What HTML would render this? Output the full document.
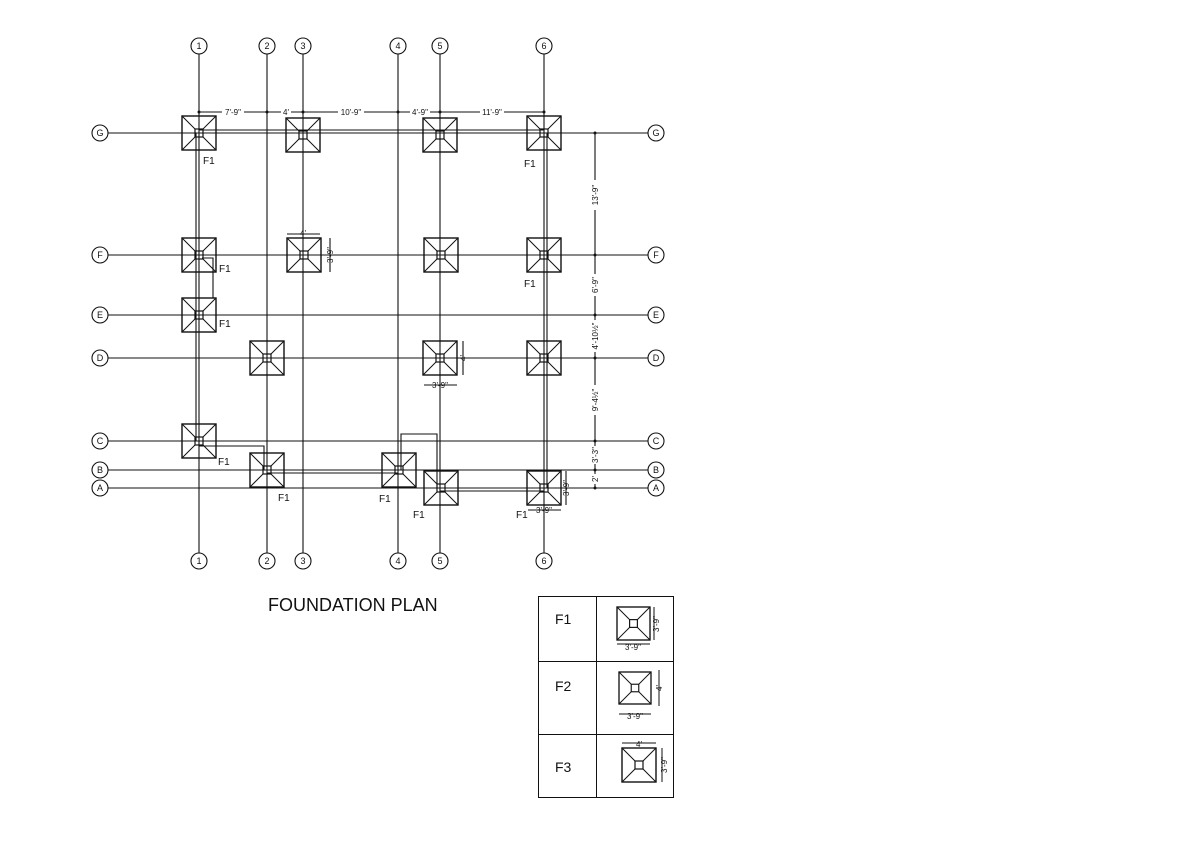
<!DOCTYPE html>
<html><head><meta charset="utf-8"><style>
html,body{margin:0;padding:0;background:#fff;width:1200px;height:848px;overflow:hidden}
svg{display:block}
text{font-family:"Liberation Sans",sans-serif;fill:#111}
</style></head><body>
<svg width="1200" height="848" viewBox="0 0 1200 848" xmlns="http://www.w3.org/2000/svg">
<defs>
<symbol id="ft" viewBox="0 0 34 34" overflow="visible">
<rect x="0" y="0" width="34" height="34" fill="none" stroke="#111" stroke-width="1.4"/>
<rect x="13" y="13" width="8" height="8" fill="none" stroke="#111" stroke-width="1.2"/>
<path d="M0 0L13 13M34 0L21 13M0 34L13 21M34 34L21 21" stroke="#111" stroke-width="1"/>
</symbol>
</defs>
<g stroke="#111" stroke-width="1.1" fill="none">
<line x1="199" y1="54" x2="199" y2="553"/>
<line x1="267" y1="54" x2="267" y2="553"/>
<line x1="303" y1="54" x2="303" y2="553"/>
<line x1="398" y1="54" x2="398" y2="553"/>
<line x1="440" y1="54" x2="440" y2="553"/>
<line x1="544" y1="54" x2="544" y2="553"/>
<line x1="108" y1="133" x2="648" y2="133"/>
<line x1="108" y1="255" x2="648" y2="255"/>
<line x1="108" y1="315" x2="648" y2="315"/>
<line x1="108" y1="358" x2="648" y2="358"/>
<line x1="108" y1="441" x2="648" y2="441"/>
<line x1="108" y1="470" x2="648" y2="470"/>
<line x1="108" y1="488" x2="648" y2="488"/>
<!-- beams -->
<line x1="199" y1="130" x2="544" y2="130"/>
<line x1="196" y1="133" x2="196" y2="441"/>
<line x1="547" y1="133" x2="547" y2="488"/>
<polyline points="199,446 264,446 264,470"/>
<line x1="267" y1="473" x2="398" y2="473"/>
<polyline points="401,470 401,434 437,434 437,488"/>
<line x1="440" y1="491" x2="544" y2="491"/>
<polyline points="202,258 213,258 213,298"/>
<!-- bubbles -->
<circle cx="199" cy="46" r="8"/><circle cx="267" cy="46" r="8"/><circle cx="303" cy="46" r="8"/><circle cx="398" cy="46" r="8"/><circle cx="440" cy="46" r="8"/><circle cx="544" cy="46" r="8"/>
<circle cx="199" cy="561" r="8"/><circle cx="267" cy="561" r="8"/><circle cx="303" cy="561" r="8"/><circle cx="398" cy="561" r="8"/><circle cx="440" cy="561" r="8"/><circle cx="544" cy="561" r="8"/>
<circle cx="100" cy="133" r="8"/><circle cx="100" cy="255" r="8"/><circle cx="100" cy="315" r="8"/><circle cx="100" cy="358" r="8"/><circle cx="100" cy="441" r="8"/><circle cx="100" cy="470" r="8"/><circle cx="100" cy="488" r="8"/>
<circle cx="656" cy="133" r="8"/><circle cx="656" cy="255" r="8"/><circle cx="656" cy="315" r="8"/><circle cx="656" cy="358" r="8"/><circle cx="656" cy="441" r="8"/><circle cx="656" cy="470" r="8"/><circle cx="656" cy="488" r="8"/>
<line x1="199" y1="112" x2="544" y2="112"/>
<line x1="595" y1="133" x2="595" y2="488"/>
<line x1="287" y1="234" x2="320" y2="234"/><line x1="330" y1="238" x2="330" y2="272"/>
<line x1="463" y1="341" x2="463" y2="375"/><line x1="424" y1="385" x2="457" y2="385"/>
<line x1="566" y1="471" x2="566" y2="505"/><line x1="528" y1="510" x2="561" y2="510"/>
</g>
<g fill="#111">
<circle cx="199" cy="112" r="1.5"/><circle cx="267" cy="112" r="1.5"/><circle cx="303" cy="112" r="1.5"/><circle cx="398" cy="112" r="1.5"/><circle cx="440" cy="112" r="1.5"/><circle cx="544" cy="112" r="1.5"/>
<circle cx="595" cy="133" r="1.5"/><circle cx="595" cy="255" r="1.5"/><circle cx="595" cy="315" r="1.5"/><circle cx="595" cy="358" r="1.5"/><circle cx="595" cy="441" r="1.5"/><circle cx="595" cy="470" r="1.5"/><circle cx="595" cy="488" r="1.5"/>
</g>
<g>
<use href="#ft" x="182" y="116" width="34" height="34"/>
<use href="#ft" x="286" y="118" width="34" height="34"/>
<use href="#ft" x="423" y="118" width="34" height="34"/>
<use href="#ft" x="527" y="116" width="34" height="34"/>
<use href="#ft" x="182" y="238" width="34" height="34"/>
<use href="#ft" x="286" y="238" width="36" height="34"/>
<use href="#ft" x="423" y="238" width="36" height="34"/>
<use href="#ft" x="527" y="238" width="34" height="34"/>
<use href="#ft" x="182" y="298" width="34" height="34"/>
<use href="#ft" x="250" y="341" width="34" height="34"/>
<use href="#ft" x="423" y="341" width="34" height="34"/>
<use href="#ft" x="527" y="341" width="34" height="34"/>
<use href="#ft" x="182" y="424" width="34" height="34"/>
<use href="#ft" x="250" y="453" width="34" height="34"/>
<use href="#ft" x="382" y="453" width="34" height="34"/>
<use href="#ft" x="424" y="471" width="34" height="34"/>
<use href="#ft" x="527" y="471" width="34" height="34"/>
</g>
<g font-size="9" text-anchor="middle" dominant-baseline="central">
<text x="199" y="46">1</text><text x="267" y="46">2</text><text x="303" y="46">3</text><text x="398" y="46">4</text><text x="440" y="46">5</text><text x="544" y="46">6</text>
<text x="199" y="561">1</text><text x="267" y="561">2</text><text x="303" y="561">3</text><text x="398" y="561">4</text><text x="440" y="561">5</text><text x="544" y="561">6</text>
<text x="100" y="133">G</text><text x="100" y="255">F</text><text x="100" y="315">E</text><text x="100" y="358">D</text><text x="100" y="441">C</text><text x="100" y="470">B</text><text x="100" y="488">A</text>
<text x="656" y="133">G</text><text x="656" y="255">F</text><text x="656" y="315">E</text><text x="656" y="358">D</text><text x="656" y="441">C</text><text x="656" y="470">B</text><text x="656" y="488">A</text>
</g>
<g font-size="8" text-anchor="middle">
<g fill="#fff"><rect x="222" y="107" width="22" height="9"/><rect x="281" y="107" width="10" height="9"/><rect x="338" y="107" width="26" height="9"/><rect x="410" y="107" width="20" height="9"/><rect x="480" y="107" width="24" height="9"/>
<rect x="590" y="180" width="10" height="30"/><rect x="590" y="274" width="10" height="22"/><rect x="588" y="320" width="14" height="32"/><rect x="588" y="385" width="14" height="30"/><rect x="590" y="446" width="10" height="18"/><rect x="590" y="474" width="10" height="10"/></g>
<text x="233" y="115">7'-9"</text><text x="286" y="115">4'</text><text x="351" y="115">10'-9"</text><text x="420" y="115">4'-9"</text><text x="492" y="115">11'-9"</text>
<text transform="translate(598,195) rotate(-90)">13'-9"</text>
<text transform="translate(598,285) rotate(-90)">6'-9"</text>
<text transform="translate(598,336) rotate(-90)">4'-10½"</text>
<text transform="translate(598,400) rotate(-90)">9'-4½"</text>
<text transform="translate(598,455) rotate(-90)">3'-3"</text>
<text transform="translate(598,479) rotate(-90)">2'</text>
<text x="303" y="236">4'</text>
<text transform="translate(333,255) rotate(-90)">3'-9"</text>
<text transform="translate(466,358) rotate(-90)">4'</text>
<text x="440" y="388">3'-9"</text>
<text transform="translate(569,488) rotate(-90)">3'-9"</text>
<text x="544" y="513">3'-9"</text>
</g>
<g font-size="10">
<text x="203" y="164">F1</text><text x="524" y="167">F1</text><text x="219" y="272">F1</text><text x="524" y="287">F1</text>
<text x="219" y="327">F1</text><text x="218" y="465">F1</text><text x="278" y="501">F1</text><text x="379" y="502">F1</text>
<text x="413" y="518">F1</text><text x="516" y="518">F1</text>
</g>
<text x="268" y="611" font-size="18">FOUNDATION PLAN</text>
<g stroke="#111" stroke-width="1" fill="none">
<rect x="538.5" y="596.5" width="135" height="201"/>
<line x1="596.5" y1="596" x2="596.5" y2="798"/>
<line x1="538" y1="661.5" x2="674" y2="661.5"/>
<line x1="538" y1="734.5" x2="674" y2="734.5"/>
<line x1="617" y1="644" x2="650" y2="644"/><line x1="654" y1="607" x2="654" y2="640"/>
<line x1="619" y1="714" x2="651" y2="714"/><line x1="659" y1="670" x2="659" y2="706"/>
<line x1="622" y1="743" x2="656" y2="743"/><line x1="662" y1="748" x2="662" y2="782"/>
</g>
<use href="#ft" x="617" y="607" width="33" height="33"/>
<use href="#ft" x="619" y="670" width="32" height="36"/>
<use href="#ft" x="622" y="748" width="34" height="34"/>
<g font-size="14"><text x="555" y="624">F1</text><text x="555" y="691">F2</text><text x="555" y="772">F3</text></g>
<g font-size="8" text-anchor="middle">
<text x="633" y="650">3'-9"</text><text transform="translate(659,624) rotate(-90)">3'-9"</text>
<text x="635" y="719">3'-9"</text><text transform="translate(662,688) rotate(-90)">4'</text>
<text x="639" y="747">4'</text><text transform="translate(667,765) rotate(-90)">3'-9"</text>
</g>
</svg>
</body></html>
